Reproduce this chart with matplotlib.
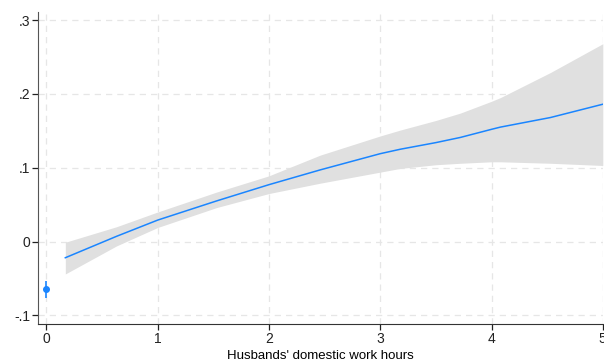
import matplotlib.pyplot as plt
import numpy as np

plt.rcParams['font.family'] = ['Liberation Sans', 'DejaVu Sans']

# estimate at zero hours (point + 95% CI)
x_zero = 0
y_zero = -0.065
ci_zero = (-0.076, -0.054)

# smoothed effect over hours > 0
hours = [0.17, 0.63, 1.0, 1.53, 2.0, 2.46, 3.0, 3.18, 3.5, 3.72, 4.0, 4.08, 4.53, 5.0]
effect = [-0.022, 0.007, 0.029, 0.055, 0.077, 0.097, 0.119, 0.125, 0.134, 0.141, 0.152, 0.155, 0.168, 0.186]
upper = [-0.001, 0.020, 0.040, 0.067, 0.089, 0.117, 0.143, 0.151, 0.164, 0.174, 0.190, 0.195, 0.229, 0.268]
lower = [-0.044, -0.006, 0.019, 0.046, 0.065, 0.079, 0.094, 0.099, 0.104, 0.106, 0.108, 0.108, 0.106, 0.103]

blue = '#1a85ff'

fig = plt.figure(figsize=(6.04, 3.63), dpi=100)
ax = fig.add_axes([0.063, 0.107, 0.935, 0.860])

ax.fill_between(hours, lower, upper, color='#e0e0e0', linewidth=0, zorder=2)
ax.plot(hours, effect, color=blue, linewidth=1.1, zorder=3)
ax.errorbar([x_zero], [y_zero],
            yerr=[[y_zero - ci_zero[0]], [ci_zero[1] - y_zero]],
            fmt='o', color=blue, markersize=4, elinewidth=1.2, capsize=0, zorder=4)

ax.set_xlim(-0.075, 5.0)
ax.set_ylim(-0.112, 0.311)
ax.set_xticks([0, 1, 2, 3, 4, 5])
ax.set_yticks([-0.1, 0, 0.1, 0.2, 0.3])
ax.set_yticklabels(['-.1', '0', '.1', '.2', '.3'])
ax.grid(True, color='#e6e6e6', linestyle=(0, (5, 4)), linewidth=0.9, zorder=0)
ax.set_axisbelow(True)

for side in ['top', 'right']:
    ax.spines[side].set_visible(False)
ax.spines['left'].set_color('#555555')
ax.spines['bottom'].set_color('#333333')
ax.tick_params(axis='both', direction='out', length=4, width=0.9, labelsize=10,
               pad=1.5, colors='#222222')

ax.set_xlabel("Husbands' domestic work hours", fontsize=9.5, labelpad=3)

fig.savefig('out.png', dpi=100)
